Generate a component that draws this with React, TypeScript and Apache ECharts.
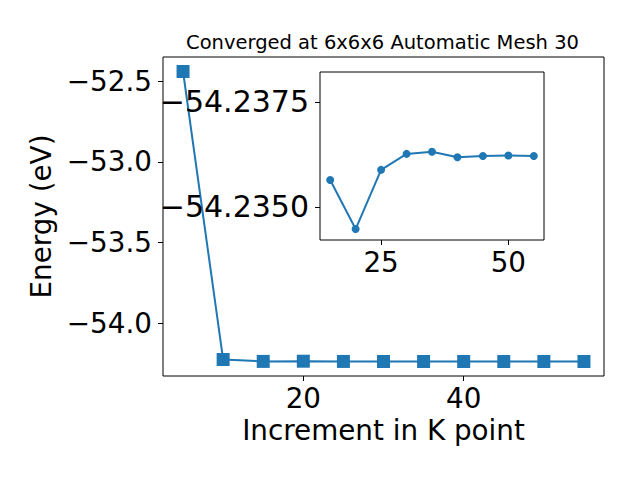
import React, { useEffect, useRef } from "react";
import * as echarts from "echarts";

const kPoints = [5, 10, 15, 20, 25, 30, 35, 40, 45, 50, 55];
const energies = [
  -52.44, -54.224, -54.23564, -54.23447, -54.23588, -54.23626, -54.23631,
  -54.23618, -54.23621, -54.23622, -54.23621,
];
const insetStart = 2; // inset shows points from k = 15 on
const mainXTicks = [20, 40];
const mainYTicks = [-54.0, -53.5, -53.0, -52.5];
const insetXTicks = [25, 50];
const insetYTicks = [-54.2375, -54.235];
const titleText = "Converged at 6x6x6 Automatic Mesh 30";
const xName = "Increment in K point";
const yName = "Energy (eV)";

const FONT = "DejaVu Sans";
const BLUE = "#1f77b4";
const fmt = (d: number) => (v: number) =>
  (v < 0 ? "\u2212" : "") + Math.abs(v).toFixed(d);

export default function App() {
  const ref = useRef<HTMLDivElement>(null);
  useEffect(() => {
    if (!ref.current) return;
    const chart = echarts.init(ref.current, null, { renderer: "svg" });
    const mainData = kPoints.map((k, i) => [k, energies[i]]);
    const insetData = kPoints
      .slice(insetStart)
      .map((k, i) => [k, energies[i + insetStart]]);
    const tickStyle = { color: "#000", width: 1 };
    const labelStyle = { fontFamily: FONT, fontSize: 27.8, color: "#000" };
    chart.setOption({
      animation: false,
      backgroundColor: "#fff",
      graphic: [
        {
          type: "text",
          x: 382.5,
          y: 42,
          style: {
            text: titleText,
            fontFamily: FONT,
            fontSize: 19.5,
            fill: "#000",
            align: "center",
            verticalAlign: "middle",
          },
        },
      ],
      grid: [
        {
          left: 163,
          top: 57,
          width: 441,
          height: 319,
          show: true,
          borderColor: "#000",
          borderWidth: 1,
          backgroundColor: "transparent",
          containLabel: false,
          outerBoundsMode: "none",
        },
        {
          left: 320,
          top: 72,
          width: 224,
          height: 168,
          show: true,
          borderColor: "#000",
          borderWidth: 1,
          backgroundColor: "#fff",
          containLabel: false,
          outerBoundsMode: "none",
          z: 5,
        },
      ],
      xAxis: [
        {
          type: "value",
          gridIndex: 0,
          min: 2.5,
          max: 57.5,
          axisLine: { show: false },
          splitLine: { show: false },
          axisTick: { show: true, length: 5, lineStyle: tickStyle, customValues: mainXTicks },
          axisLabel: { ...labelStyle, margin: 8, customValues: mainXTicks, formatter: (v: number) => String(v) },
          name: xName,
          nameLocation: "middle",
          nameGap: 40,
          nameTextStyle: { fontFamily: FONT, fontSize: 27.8, color: "#000" },
        },
        {
          type: "value",
          gridIndex: 1,
          min: 13,
          max: 57,
          z: 6,
          axisLine: { show: false },
          splitLine: { show: false },
          axisTick: { show: true, length: 5, lineStyle: tickStyle, customValues: insetXTicks },
          axisLabel: { ...labelStyle, margin: 8, customValues: insetXTicks, formatter: (v: number) => String(v) },
        },
      ],
      yAxis: [
        {
          type: "value",
          gridIndex: 0,
          min: -54.3261,
          max: -52.3502,
          axisLine: { show: false },
          splitLine: { show: false },
          axisTick: { show: true, length: 5, lineStyle: tickStyle, customValues: mainYTicks },
          axisLabel: { ...labelStyle, margin: 11, customValues: mainYTicks, formatter: fmt(1) },
          name: yName,
          nameLocation: "middle",
          nameGap: 100,
          nameTextStyle: { fontFamily: FONT, fontSize: 27.8, color: "#000" },
        },
        {
          type: "value",
          gridIndex: 1,
          inverse: true,
          min: -54.23821,
          max: -54.23421,
          z: 6,
          axisLine: { show: false },
          splitLine: { show: false },
          axisTick: { show: true, length: 5, lineStyle: tickStyle, customValues: insetYTicks },
          axisLabel: { ...labelStyle, fontSize: 30, margin: 11, customValues: insetYTicks, formatter: fmt(4) },
        },
      ],
      series: [
        {
          type: "line",
          xAxisIndex: 0,
          yAxisIndex: 0,
          data: mainData,
          symbol: "rect",
          symbolSize: 13,
          lineStyle: { color: BLUE, width: 2 },
          itemStyle: { color: BLUE },
          z: 2,
        },
        {
          type: "line",
          xAxisIndex: 1,
          yAxisIndex: 1,
          data: insetData,
          symbol: "circle",
          symbolSize: 8,
          lineStyle: { color: BLUE, width: 2 },
          itemStyle: { color: BLUE },
          z: 7,
        },
      ],
    });
    return () => chart.dispose();
  }, []);
  return (
    <div
      ref={ref}
      style={{ position: "fixed", left: 0, top: 0, width: 640, height: 480 }}
    />
  );
}
